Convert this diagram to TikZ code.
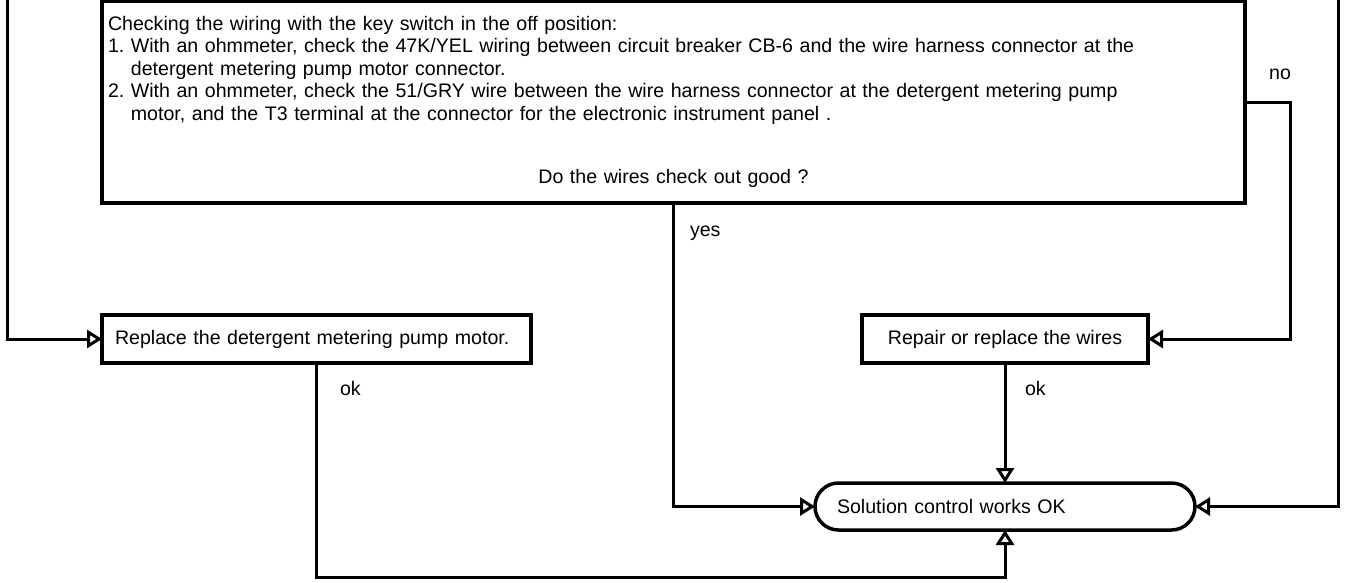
\documentclass[tikz,border=0pt]{standalone}
\usepackage{fontspec}
\setmainfont{Liberation Sans}
\usetikzlibrary{arrows.meta}
\frenchspacing
\begin{document}
\begin{tikzpicture}[x=1pt,y=-1pt,
  every node/.style={font=\fontsize{19.6pt}{22.5pt}\selectfont, outer sep=0pt},
  box/.style={draw, line width=3.5pt},
  conn/.style={line width=3pt, -{Triangle[open,length=15pt,width=18pt]}},
  lbl/.style={anchor=west, inner sep=0pt}]
\useasboundingbox (0,0) rectangle (1347,582);

\node[box, anchor=north west, minimum width=1143pt, minimum height=202pt,
      text width=1131pt, align=left, inner xsep=6pt, inner ysep=0pt] (check) at (102,1)
 {Checking the wiring with the key switch in the off position:\\
  1. With an ohmmeter, check the 47K/YEL wiring between circuit breaker CB-6 and the wire harness connector at the\\
  \phantom{1.\ }detergent metering pump motor connector.\\
  2. With an ohmmeter, check the 51/GRY wire between the wire harness connector at the detergent metering pump\\
  \phantom{2.\ }motor, and the T3 terminal at the connector for the electronic instrument panel .\\[41pt]
  \makebox[\linewidth][c]{Do the wires check out good ?}};

\node[box, minimum width=429pt, minimum height=48pt, text width=403pt, align=left,
      inner xsep=13pt] (replace) at (316.5,339) {Replace the detergent metering pump motor.};
\node[box, minimum width=286pt, minimum height=48pt] (repair) at (1005,339) {Repair or replace the wires};
\node[box, rounded corners=23.5pt, minimum width=380pt, minimum height=47pt,
      text width=336pt, align=left, inner xsep=22pt] (done) at (1005,506.5) {Solution control works OK};

\coordinate (topL) at (7,0);
\coordinate (topR) at (1338,0);
\coordinate (bot) at (0,577);

\draw[conn] (topL) |- (replace.west);
\draw[conn] (topR) |- (done.east);
\draw[conn] (check.east) -- ++(45,0) |- (repair.east);
\draw[conn] (check.south) |- (done.west);
\draw[conn] (replace.south) |- (bot -| done.south) -- (done.south);
\draw[conn] (repair.south) -- (done.north);

\node[lbl, anchor=center] (no) at (1280,74) {no};
\node[lbl] (yes) at (690,233) {yes};
\node[lbl] (ok1) at (340,388) {ok};
\node[lbl] (ok2) at (1025,388) {ok};
\end{tikzpicture}
\end{document}
